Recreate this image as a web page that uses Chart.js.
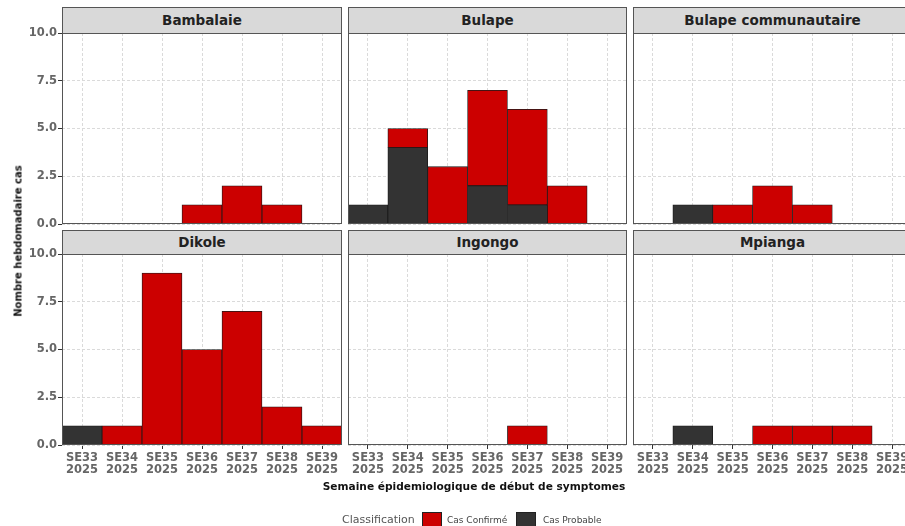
<!DOCTYPE html>
<html lang="fr">
<head>
<meta charset="utf-8">
<script src="https://cdn.jsdelivr.net/npm/chart.js@4/dist/chart.umd.min.js"></script>
<style>
  html, body { margin: 0; padding: 0; background: #fff; overflow: hidden; }
  body { width: 905px; height: 526px; position: relative; font-family: "DejaVu Sans", Verdana, sans-serif; }
  #stage { position: absolute; left: 0; top: 0; width: 960px; height: 526px; }
  .panel { position: absolute; }
  .strip { position: absolute; box-sizing: border-box; background: #d9d9d9; border: 1px solid #555;
           font-weight: bold; font-size: 13.5px; color: #222; text-align: center; }
  .ytitle { position: absolute; font-weight: bold; font-size: 10px; color: #111; white-space: nowrap;
            transform: translate(-50%, -50%) rotate(-90deg); }
  .xtitle { position: absolute; font-weight: bold; font-size: 10.6px; color: #111; white-space: nowrap;
            transform: translate(-50%, -50%); }
  .legend { position: absolute; left: 342px; top: 512px; height: 20px; white-space: nowrap; }
  .legend span { position: absolute; top: 0; }
  .legend .lt { font-size: 11px; color: #555; top: 1px; }
  .legend .sw { width: 20px; height: 18px; border: 0.5px solid #222; box-sizing: border-box; }
  .legend .it { font-size: 9px; color: #444; top: 3px; }
</style>
</head>
<body>
<div id="stage"></div>
<script>
// Weekly case counts per health area, epidemiological weeks 33-39 of 2025
const weeks = ["SE33", "SE34", "SE35", "SE36", "SE37", "SE38", "SE39"];
const year = "2025";
const areas = ["Bambalaie", "Bulape", "Bulape communautaire", "Dikole", "Ingongo", "Mpianga"];

const confirmedBambalaie = [0, 0, 0, 1, 2, 1, 0];
const confirmedBulape    = [0, 1, 3, 5, 5, 2, 0];
const confirmedBulapeCom = [0, 0, 1, 2, 1, 0, 0];
const confirmedDikole    = [0, 1, 9, 5, 7, 2, 1];
const confirmedIngongo   = [0, 0, 0, 0, 1, 0, 0];
const confirmedMpianga   = [0, 0, 0, 1, 1, 1, 0];

const probableBambalaie = [0, 0, 0, 0, 0, 0, 0];
const probableBulape    = [1, 4, 0, 2, 1, 0, 0];
const probableBulapeCom = [0, 1, 0, 0, 0, 0, 0];
const probableDikole    = [1, 0, 0, 0, 0, 0, 0];
const probableIngongo   = [0, 0, 0, 0, 0, 0, 0];
const probableMpianga   = [0, 1, 0, 0, 0, 0, 0];

const yTicks = [0, 2.5, 5, 7.5, 10];
const seriesLabels = ["Cas Probable", "Cas Confirmé"];

const confirmed = [confirmedBambalaie, confirmedBulape, confirmedBulapeCom, confirmedDikole, confirmedIngongo, confirmedMpianga];
const probable  = [probableBambalaie, probableBulape, probableBulapeCom, probableDikole, probableIngongo, probableMpianga];

// facet grid geometry
const colLeft = [62, 348, 633];
const colWidth = [280, 279, 279];
const rowTop = [33, 254];
const stripTop = [7, 230];
const plotH = 191;
const yAxisW = 62;
const pad = 10;
const xAxisH = 40;

const RED = "#CC0000";
const DARK = "#333333";
const tickText = "#666666";
const tickFont = { family: "DejaVu Sans", size: 11.5, weight: "bold", lineHeight: 1.05 };

const stage = document.getElementById("stage");

// panel frame drawn over the plotting area
const panelBorder = {
  id: "panelBorder",
  afterDraw(chart) {
    const a = chart.chartArea, ctx = chart.ctx;
    ctx.save();
    ctx.strokeStyle = "#555";
    ctx.lineWidth = 1;
    ctx.strokeRect(a.left + 0.5, a.top + 0.5, a.right - a.left - 1, a.bottom - a.top - 1);
    ctx.restore();
  }
};

areas.forEach((name, i) => {
  const row = Math.floor(i / 3), col = i % 3;
  const isLeft = col === 0, isBottom = row === 1;
  const leftW = isLeft ? yAxisW : 0;
  const cw = leftW + colWidth[col] + pad;
  const ch = pad + plotH + (isBottom ? xAxisH : pad);

  const strip = document.createElement("div");
  strip.className = "strip";
  strip.style.left = colLeft[col] + "px";
  strip.style.top = stripTop[row] + "px";
  strip.style.width = colWidth[col] + "px";
  strip.style.height = (rowTop[row] - stripTop[row] + 1) + "px";
  strip.style.lineHeight = (rowTop[row] - stripTop[row] - 1) + "px";
  strip.textContent = name;

  const holder = document.createElement("div");
  holder.className = "panel";
  holder.style.left = (colLeft[col] - leftW) + "px";
  holder.style.top = (rowTop[row] - pad) + "px";
  const cv = document.createElement("canvas");
  cv.width = cw; cv.height = ch;
  cv.style.width = cw + "px"; cv.style.height = ch + "px";
  holder.appendChild(cv);
  stage.appendChild(holder);
  stage.appendChild(strip);

  new Chart(cv, {
    type: "bar",
    data: {
      labels: weeks.map(w => [w, year]),
      datasets: [
        { label: seriesLabels[0], data: probable[i].map(v => v || null), backgroundColor: DARK },
        { label: seriesLabels[1], data: confirmed[i].map(v => v || null), backgroundColor: RED }
      ]
    },
    options: {
      responsive: false,
      devicePixelRatio: 1,
      animation: false,
      layout: { padding: { top: pad, right: pad, bottom: isBottom ? 0 : pad, left: 0 } },
      datasets: {
        bar: {
          barPercentage: 1, categoryPercentage: 1,
          borderColor: "#1a1a1a", borderWidth: 0.8, borderSkipped: false
        }
      },
      plugins: { legend: { display: false }, tooltip: { enabled: false } },
      scales: {
        x: {
          stacked: true,
          offset: true,
          grid: {
            offset: false, color: "#dadada", lineWidth: 1,
            drawTicks: isBottom, tickLength: 4, tickColor: "#333", tickWidth: 1
          },
          border: { display: false, dash: [3, 2] },
          ticks: {
            display: isBottom, padding: 3, maxRotation: 0, autoSkip: false,
            color: tickText, font: tickFont
          },
          afterFit(s) { s.height = isBottom ? xAxisH : 0; }
        },
        y: {
          stacked: true,
          min: 0, max: 10,
          afterBuildTicks(s) { s.ticks = yTicks.map(v => ({ value: v })); },
          grid: {
            color: "#dadada", lineWidth: 1,
            drawTicks: isLeft, tickLength: 4, tickColor: "#333", tickWidth: 1
          },
          border: { display: false, dash: [3, 2] },
          ticks: {
            display: isLeft, padding: 1,
            color: tickText, font: tickFont,
            callback: v => Number(v).toFixed(1)
          },
          afterFit(s) { s.width = leftW; }
        }
      }
    },
    plugins: [panelBorder]
  });
});

// axis titles
const yt = document.createElement("div");
yt.className = "ytitle";
yt.style.left = "18px"; yt.style.top = "241px";
yt.textContent = "Nombre hebdomadaire cas";
stage.appendChild(yt);

const xt = document.createElement("div");
xt.className = "xtitle";
xt.style.left = "474px"; xt.style.top = "486px";
xt.textContent = "Semaine épidemiologique de début de symptomes";
stage.appendChild(xt);

// legend
const lg = document.createElement("div");
lg.className = "legend";
lg.innerHTML =
  '<span class="lt" style="left:0">Classification</span>' +
  '<span class="sw" style="left:80px;background:' + RED + '"></span>' +
  '<span class="it" style="left:105px">' + seriesLabels[1] + '</span>' +
  '<span class="sw" style="left:174px;background:' + DARK + '"></span>' +
  '<span class="it" style="left:201px">' + seriesLabels[0] + '</span>';
stage.appendChild(lg);
</script>
</body>
</html>
